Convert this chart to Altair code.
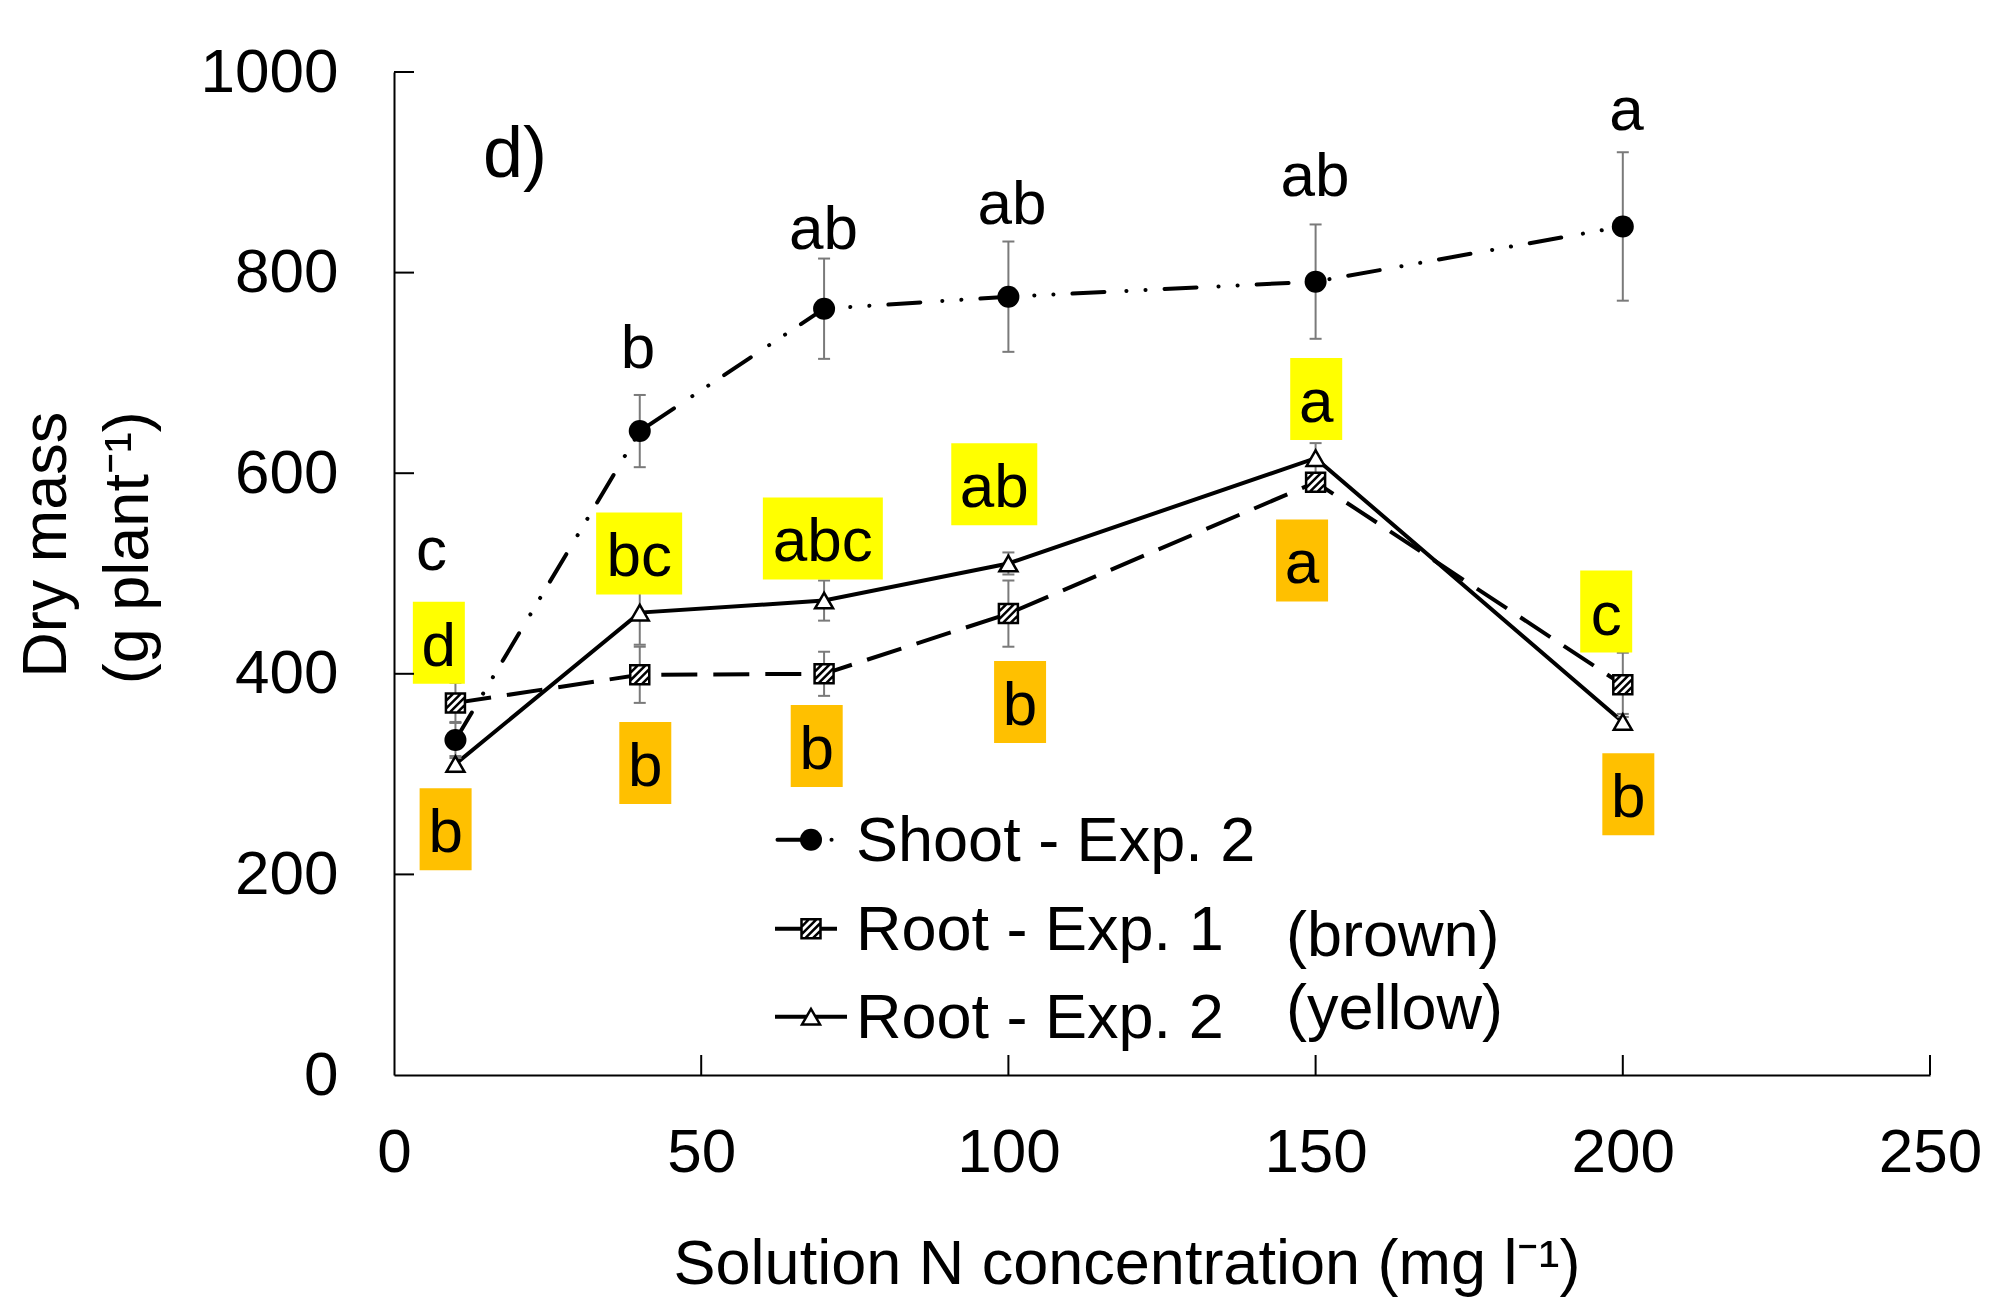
import altair as alt
import pandas as pd

# ---------------- data ----------------
conc = [10, 40, 70, 100, 150, 200]
shoot = [334, 642, 764, 776, 791, 846]
shoot_err = [18, 36, 50, 55, 57, 74]
root1 = [371, 399, 400, 460, 591, 389]
root1_err = [20, 28, 22, 33, 8, 32]
root2 = [310, 461, 473, 510, 615, 352]
root2_err = [8, 32, 20, 11, 15, 8]

series_names = ["Shoot - Exp. 2", "Root - Exp. 1", "Root - Exp. 2"]

shoot_letters = ["c", "b", "ab", "ab", "ab", "a"]
root1_letters = ["b", "b", "b", "b", "a", "b"]
root2_letters = ["d", "bc", "abc", "ab", "a", "c"]

# label anchor positions (data units)
shoot_lbl_x = [6.1, 39.7, 69.9, 100.6, 149.9, 200.6]
shoot_lbl_y = [526, 728, 846, 871, 899, 965]
root1_lbl_x = [8.4, 40.9, 68.8, 101.9, 147.8, 200.9]
root1_lbl_y = [245, 311, 328, 372, 513, 280]
root2_lbl_x = [7.3, 39.9, 69.8, 97.7, 150.1, 197.3]
root2_lbl_y = [431, 520, 535, 589, 674, 462]

x_ticks = [0, 50, 100, 150, 200, 250]
y_ticks = [0, 200, 400, 600, 800, 1000]

x_title = "Solution N concentration (mg l\u207b\u00b9)"
y_title = ["Dry mass", "(g plant\u207b\u00b9)"]
panel_tag = "d)"
legend_notes = ["(brown)", "(yellow)"]

# ---------------- styles ----------------
FONT = "Liberation Sans"
W, H = 1536, 1003
FS = 62
YELLOW = "#FFFF00"
ORANGE = "#FFC000"
ERR_COL = "#7a7a7a"
BOX_H = 82
HATCH_SQ = ("M-1,-1H1V1H-1Z M-1,-0.2L-0.2,-1 M-1,0.6L0.6,-1 "
            "M-0.6,1L1,-0.6 M0.2,1L1,0.2")
SHOOT_DASH = [32, 22, 0.1, 19, 0.1, 19]
ROOT1_DASH = [36, 16]


def box_path(n):
    w = 18 + 34 * n
    r = w / BOX_H
    return f"M{-r:.3f},-1H{r:.3f}V1H{-r:.3f}Z"


xs = alt.Scale(domain=[0, 250], nice=False, zero=False)
ys = alt.Scale(domain=[0, 1000], nice=False, zero=False)

x_axis = alt.Axis(values=x_ticks, ticks=False, tickSize=0, grid=False, title=None,
                  format="d",
                  labelFont=FONT, labelFontSize=FS, labelColor="black",
                  labelPadding=47, labelFlush=False, labelOverlap=False,
                  domain=True, domainColor="black", domainWidth=2)
y_axis = alt.Axis(values=y_ticks, ticks=False, tickSize=0, grid=False, title=None,
                  format="d",
                  labelFont=FONT, labelFontSize=FS, labelColor="black",
                  labelPadding=56, labelFlush=False, labelOverlap=False,
                  domain=True, domainColor="black", domainWidth=2)

# ---------------- tables ----------------
df = pd.DataFrame({
    "x": conc * 3,
    "y": shoot + root1 + root2,
    "err": shoot_err + root1_err + root2_err,
    "series": [s for s in series_names for _ in conc],
})
df["lo"] = df["y"] - df["err"]
df["hi"] = df["y"] + df["err"]

lab_rows = []
for xs_, ys_, ts_, col in [(shoot_lbl_x, shoot_lbl_y, shoot_letters, ""),
                           (root1_lbl_x, root1_lbl_y, root1_letters, ORANGE),
                           (root2_lbl_x, root2_lbl_y, root2_letters, YELLOW)]:
    for a, b, t in zip(xs_, ys_, ts_):
        lab_rows.append({"x": a, "y": b, "text": t, "box": col, "shape": box_path(len(t))})
labels = pd.DataFrame(lab_rows)
boxes = labels[labels["box"] != ""]

one = pd.DataFrame({"k": [0]})


def X(f="x"):
    return alt.X(f"{f}:Q", scale=xs, axis=x_axis)


def Y(f="y"):
    return alt.Y(f"{f}:Q", scale=ys, axis=y_axis)


# ---------------- layers ----------------
d_shoot = df[df.series == series_names[0]]
d_r1 = df[df.series == series_names[1]]
d_r2 = df[df.series == series_names[2]]

line_shoot = alt.Chart(d_shoot).mark_line(
    color="black", strokeWidth=4, strokeDash=SHOOT_DASH, strokeCap="round"
).encode(x=X(), y=Y())

line_r1 = alt.Chart(d_r1).mark_line(
    color="black", strokeWidth=4, strokeDash=ROOT1_DASH
).encode(x=X(), y=Y())

line_r2 = alt.Chart(d_r2).mark_line(color="black", strokeWidth=4).encode(x=X(), y=Y())

err_rule = alt.Chart(df).mark_rule(color=ERR_COL, strokeWidth=2).encode(
    x=X(), y=Y("lo"), y2="hi:Q")
cap_lo = alt.Chart(df).mark_tick(color=ERR_COL, orient="horizontal", size=12,
                                 thickness=2, opacity=1).encode(x=X(), y=Y("lo"))
cap_hi = alt.Chart(df).mark_tick(color=ERR_COL, orient="horizontal", size=12,
                                 thickness=2, opacity=1).encode(x=X(), y=Y("hi"))

pts_r1 = alt.Chart(d_r1).mark_point(
    shape=HATCH_SQ, filled=True, fill="white", stroke="black", strokeWidth=2.5,
    size=361, opacity=1).encode(x=X(), y=Y())
pts_shoot = alt.Chart(d_shoot).mark_point(
    shape="circle", filled=True, fill="black", size=484, opacity=1).encode(x=X(), y=Y())
pts_r2 = alt.Chart(d_r2).mark_point(
    shape="triangle-up", filled=True, fill="white", stroke="black", strokeWidth=2.5,
    size=324, opacity=1).encode(x=X(), y=Y())

box_layer = alt.Chart(boxes).mark_point(filled=True, opacity=1, strokeWidth=0).encode(
    x=X(), y=Y(),
    shape=alt.Shape("shape:N", scale=None, legend=None),
    color=alt.Color("box:N", scale=None, legend=None),
    size=alt.value(BOX_H * BOX_H))
text_layer = alt.Chart(labels).mark_text(
    font=FONT, fontSize=FS, baseline="alphabetic", align="center", dy=23, color="black"
).encode(x=X(), y=Y(), text="text:N")

# inside ticks
yt = alt.Chart(pd.DataFrame({"t": y_ticks[1:]})).mark_rule(color="black", strokeWidth=2).encode(
    y=Y("t"), x=alt.value(0), x2=alt.value(20))
xt = alt.Chart(pd.DataFrame({"t": x_ticks[1:]})).mark_rule(color="black", strokeWidth=2).encode(
    x=X("t"), y=alt.value(H), y2=alt.value(H - 20))


def txt(s, x, y, size=FS, align="left", baseline="alphabetic", angle=0):
    kw = dict(text=s, font=FONT, fontSize=size, align=align, baseline=baseline, color="black")
    if angle:
        kw["angle"] = angle
    return alt.Chart(one).mark_text(**kw).encode(x=alt.value(x), y=alt.value(y))


titles = [
    txt(x_title, 733, 1212, size=63, align="center"),
    txt(y_title[0], -347, 472.7, size=63, align="center", baseline="middle", angle=270),
    txt(y_title[1], -265, 475.7, size=63, align="center", baseline="middle", angle=270),
    txt(panel_tag, 89, 104.7, size=72),
]

# legend
LX1, LXM = 381, 417
rows_y = [767.7, 856.7, 944.7]
leg = [
    alt.Chart(one).mark_rule(color="black", strokeWidth=4, strokeDash=SHOOT_DASH,
                             strokeCap="round").encode(
        x=alt.value(LX1 + 2.5), x2=alt.value(LX1 + 58.5), y=alt.value(rows_y[0])),
    alt.Chart(one).mark_point(shape="circle", filled=True, fill="black", size=484,
                              opacity=1).encode(x=alt.value(LXM), y=alt.value(rows_y[0])),
    alt.Chart(one).mark_rule(color="black", strokeWidth=4, strokeDash=[27, 19, 16]).encode(
        x=alt.value(LX1), x2=alt.value(LX1 + 62), y=alt.value(rows_y[1])),
    alt.Chart(one).mark_point(shape=HATCH_SQ, filled=True, fill="white", stroke="black",
                              strokeWidth=2.5, size=361, opacity=1).encode(
        x=alt.value(LXM), y=alt.value(rows_y[1])),
    alt.Chart(one).mark_rule(color="black", strokeWidth=4).encode(
        x=alt.value(LX1), x2=alt.value(LX1 + 72), y=alt.value(rows_y[2])),
    alt.Chart(one).mark_point(shape="triangle-up", filled=True, fill="white", stroke="black",
                              strokeWidth=2.5, size=324, opacity=1).encode(
        x=alt.value(LXM), y=alt.value(rows_y[2])),
    txt(series_names[0], 462, 788.7, size=63),
    txt(series_names[1], 462, 877.7, size=63),
    txt(series_names[2], 462, 965.7, size=63),
    txt(legend_notes[0], 892, 883.7, size=63),
    txt(legend_notes[1], 892, 956.7, size=63),
]

chart = alt.layer(
    line_shoot, line_r1, line_r2, err_rule, cap_lo, cap_hi,
    pts_r1, pts_shoot, pts_r2, box_layer, text_layer, yt, xt, *titles, *leg
).properties(
    width=W, height=H,
    padding={"left": 386, "top": 64, "right": 54, "bottom": 222},
    autosize=alt.AutoSizeParams(type="none"),
    background="white",
).configure_view(stroke=None)

chart.save("out.html", embed_options={"renderer": "svg", "actions": False})
